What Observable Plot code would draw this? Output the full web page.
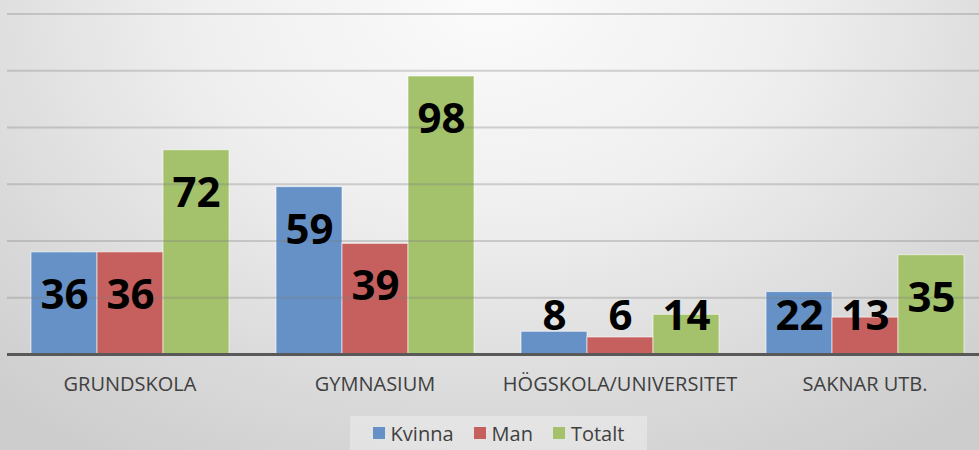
<!DOCTYPE html>
<html>
<head>
<meta charset="utf-8">
<script src="https://cdn.jsdelivr.net/npm/d3@7"></script>
<script src="https://cdn.jsdelivr.net/npm/@observablehq/plot@0.6"></script>
<style>
  body { margin: 0; }
  #wrap {
    position: relative; width: 979px; height: 450px; overflow: hidden;
    background: radial-gradient(ellipse 75% 120% at 50% 0%, #fbfbfb 0%, #efefef 40%, #dadada 75%, #cdcdcd 100%);
    font-family: "Open Sans", sans-serif;
  }
  #chart svg { display: block; }
  #legend {
    position: absolute; left: 350px; top: 416px; width: 297px; height: 34px;
    background: rgba(240,240,240,0.5);
    display: flex; align-items: center; justify-content: center; gap: 20px;
    font-size: 20px; color: #404040;
  }
  .item { display: flex; align-items: center; gap: 6px; }
  .sw { width: 12px; height: 12px; display: inline-block; }
</style>
</head>
<body>
<div id="wrap">
  <div id="chart"></div>
  <div id="legend"></div>
</div>
<script>
const categories = ["GRUNDSKOLA", "GYMNASIUM", "HÖGSKOLA/UNIVERSITET", "SAKNAR UTB."];
const series = ["Kvinna", "Man", "Totalt"];
const kvinna = [36, 59, 8, 22];
const man = [36, 39, 6, 13];
const totalt = [72, 98, 14, 35];
const colors = ["#6591c6", "#c6605e", "#a4c16b"];
const gridTicks = [20, 40, 60, 80, 100, 120];

const values = [kvinna, man, totalt];
const rows = [];
categories.forEach((c, i) => {
  series.forEach((s, j) => {
    rows.push({category: c, series: s, value: values[j][i]});
  });
});
// label placement: inside end, but not lower than a minimum level
const labelRows = rows.map(d => ({...d, ly: Math.max(d.value - 15.2, 13.4)}));

const chart = Plot.plot({
  width: 979,
  height: 410,
  marginTop: 13.6,
  marginBottom: 56,
  marginLeft: 0,
  marginRight: 0,
  style: {fontFamily: "Open Sans, sans-serif", fontSize: "20px", background: "transparent", overflow: "hidden"},
  fx: {domain: categories, range: [6.5, 986.5], padding: 0, label: null},
  x: {domain: series, paddingInner: 0, paddingOuter: 0.3375, axis: null},
  y: {domain: [0, 120], axis: null},
  color: {domain: series, range: colors},
  marks: [
    Plot.barY(rows, {fx: "category", x: "series", y: "value", fill: "series", stroke: "#ffffff", strokeOpacity: 0.6, strokeWidth: 1}),
    Plot.ruleY(gridTicks, {stroke: "#7f7f7f", strokeOpacity: 0.32, strokeWidth: 2}),
    Plot.ruleY([0], {stroke: "#595959", strokeWidth: 3}),
    Plot.text(labelRows, {fx: "category", x: "series", y: "ly", text: d => String(d.value), fontSize: 42, fontWeight: 700, fill: "#000000", lineAnchor: "middle"}),
    Plot.axisFx({anchor: "bottom", tickSize: 0, tickPadding: 22, fontSize: 20, fill: "#404040", label: null})
  ]
});
document.getElementById("chart").appendChild(chart);

const legend = document.getElementById("legend");
series.forEach((s, j) => {
  const item = document.createElement("div");
  item.className = "item";
  const sw = document.createElement("span");
  sw.className = "sw";
  sw.style.background = colors[j];
  const t = document.createElement("span");
  t.textContent = s;
  item.appendChild(sw);
  item.appendChild(t);
  legend.appendChild(item);
});
</script>
</body>
</html>
